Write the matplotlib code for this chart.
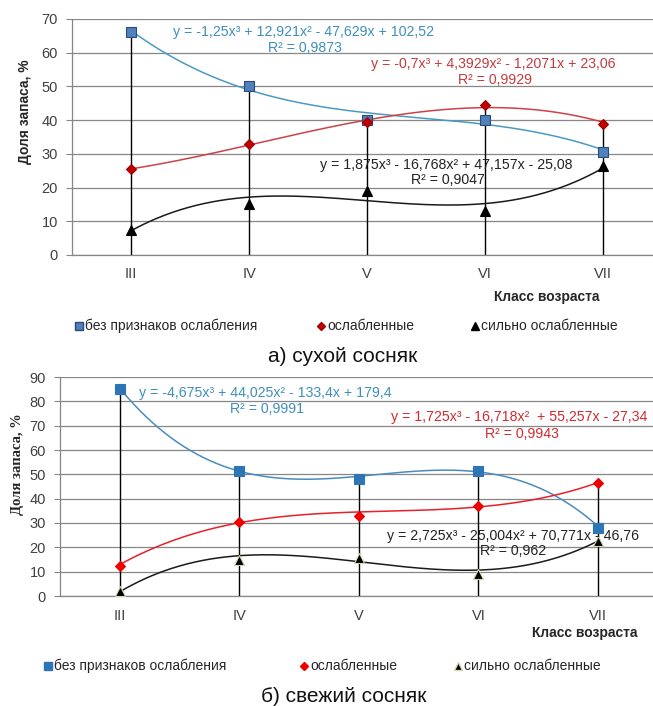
import numpy as np
import matplotlib
matplotlib.use('Agg')
import matplotlib.pyplot as plt
from matplotlib.lines import Line2D

# ---------------- data ----------------
categories = ['III', 'IV', 'V', 'VI', 'VII']
series_names = ['без признаков ослабления', 'ослабленные', 'сильно ослабленные']

dry_intact = [66, 50, 40, 40, 30.5]
dry_weak = [25.5, 33, 39.5, 44.5, 39]
dry_strong = [7.5, 15, 19, 13, 26.5]

fresh_intact = [85, 51.5, 48, 51.5, 28]
fresh_weak = [12.5, 30.5, 33, 37, 46.5]
fresh_strong = [2, 15, 15.5, 9, 22.5]

# cubic trend coefficients as printed on the chart
dry_intact_coef = [-1.25, 12.921, -47.629, 102.52]
dry_weak_coef = [-0.7, 4.3929, -1.2071, 23.06]
dry_strong_coef = [1.875, -16.768, 47.157, -25.08]
fresh_intact_coef = [-4.675, 44.025, -133.4, 179.4]
fresh_weak_coef = [1.725, -16.718, 55.257, -27.34]
fresh_strong_coef = [2.725, -25.004, 70.771, -46.76]

dry_eq = ['y = -1,25x³ + 12,921x² - 47,629x + 102,52',
          'y = -0,7x³ + 4,3929x² - 1,2071x + 23,06',
          'y = 1,875x³ - 16,768x² + 47,157x - 25,08']
dry_r2 = ['R² = 0,9873', 'R² = 0,9929', 'R² = 0,9047']
fresh_eq = ['y = -4,675x³ + 44,025x² - 133,4x + 179,4',
            'y = 1,725x³ - 16,718x²  + 55,257x - 27,34',
            'y = 2,725x³ - 25,004x² + 70,771x - 46,76']
fresh_r2 = ['R² = 0,9991', 'R² = 0,9943', 'R² = 0,962']

plt.rcParams['font.family'] = ['Liberation Sans', 'DejaVu Sans']

W, H = 653, 706
fig = plt.figure(figsize=(W / 100, H / 100), dpi=100)
fig.patch.set_facecolor('white')


def fx(x):
    return x / W


def fy(y):
    return 1 - y / H


def make_axes(rect_px, ymax, xright):
    l, t, r, b = rect_px
    ax = fig.add_axes([fx(l), fy(b), (r - l) / W, (b - t) / H])
    ax.set_xlim(0.5, xright)
    ax.set_ylim(0, ymax)
    ax.set_yticks(np.arange(0, ymax + 1, 10))
    ax.set_xticks(np.arange(1, len(categories) + 1))
    ax.set_xticklabels(categories)
    for s in ['top', 'right']:
        ax.spines[s].set_visible(False)
    for s in ['left', 'bottom']:
        ax.spines[s].set_color('#868686')
        ax.spines[s].set_linewidth(0.9)
    ax.yaxis.grid(True, color='#878787', linewidth=0.9)
    ax.set_axisbelow(True)
    ax.tick_params(axis='y', length=4, color='#868686', pad=6,
                   labelsize=10.5, labelcolor='#404040')
    ax.tick_params(axis='x', length=0, pad=9, labelsize=10.5,
                   labelcolor='#404040')
    return ax


def draw_panel(ax, vals, coefs, styles, eqs, r2s, eqpos, r2pos, tcols):
    x = np.arange(1, len(categories) + 1)
    top = np.max(np.array(vals), axis=0)
    ax.vlines(x, 0, top, color='black', linewidth=1.0, zorder=2)
    xs = np.linspace(1, 5, 300)
    for v, c, st in zip(vals, coefs, styles):
        ax.plot(xs, np.polyval(c, xs), color=st['trend'], linewidth=1.1,
                zorder=3)
        ax.plot(x, v, linestyle='none', marker=st['marker'],
                markersize=st['ms'], markerfacecolor=st['fc'],
                markeredgecolor=st['ec'], markeredgewidth=0.8, zorder=4)
    for e, r, pe, pr, tc in zip(eqs, r2s, eqpos, r2pos, tcols):
        ax.text(pe[0], pe[1], e, ha='center', va='center', fontsize=10.2,
                color=tc, zorder=5)
        ax.text(pr[0], pr[1], r, ha='center', va='center', fontsize=10.2,
                color=tc, zorder=5)


def legend_row(y, items, styles):
    for (mx, label), st in zip(items, styles):
        fig.add_artist(Line2D([fx(mx)], [fy(y)], transform=fig.transFigure,
                              marker=st['marker'], markersize=st['ms'] * 0.8,
                              markerfacecolor=st['fc'],
                              markeredgecolor=st['ec'], linestyle='none'))
        fig.text(fx(mx + 6), fy(y), label, ha='left', va='center',
                 fontsize=10, color='#262626')


# ---------------- top panel: dry pine ----------------
styles_dry = [
    dict(marker='s', ms=6.5, fc='#4f81bd', ec='#2a4a78', trend='#4a9ac4'),
    dict(marker='D', ms=4.8, fc='#c00000', ec='#a00000', trend='#d04048'),
    dict(marker='^', ms=6.5, fc='black', ec='black', trend='#1a1a1a'),
]
ax1 = make_axes((72, 19, 653, 255), 70, 5.42)
draw_panel(ax1, [dry_intact, dry_weak, dry_strong],
           [dry_intact_coef, dry_weak_coef, dry_strong_coef],
           styles_dry, dry_eq, dry_r2,
           [(2.46, 66.1), (4.07, 56.6), (3.67, 26.8)],
           [(2.47, 61.5), (4.08, 51.8), (3.68, 22.1)],
           ['#3f8fba', '#c33b3f', '#222222'])
fig.text(fx(25), fy(112), 'Доля запаса, %', rotation=90, ha='center',
         va='center', fontsize=10, fontweight='bold', color='#262626')
fig.text(fx(600), fy(297), 'Класс возраста', ha='right', va='center',
         fontsize=10, fontweight='bold', color='#262626')
legend_row(326, [(79, series_names[0]), (321, series_names[1]),
                 (475, series_names[2])], styles_dry)
fig.text(fx(343), fy(356), 'а) сухой сосняк', ha='center', va='center',
         fontsize=15, color='#111111')

# ---------------- bottom panel: fresh pine ----------------
styles_fresh = [
    dict(marker='s', ms=6.5, fc='#2e75b6', ec='#2e75b6', trend='#4a8cbf'),
    dict(marker='D', ms=4.8, fc='#ee0000', ec='#ee0000', trend='#e8202a'),
    dict(marker='^', ms=6.5, fc='black', ec='#d8d8b0', trend='#1a1a1a'),
]
ax2 = make_axes((60, 377, 653, 596), 90, 5.46)
draw_panel(ax2, [fresh_intact, fresh_weak, fresh_strong],
           [fresh_intact_coef, fresh_weak_coef, fresh_strong_coef],
           styles_fresh, fresh_eq, fresh_r2,
           [(2.22, 83.6), (4.34, 73.4), (4.29, 24.6)],
           [(2.23, 77.0), (4.36, 66.6), (4.29, 18.4)],
           ['#3f8fba', '#d02a30', '#222222'])
fig.text(fx(18), fy(464), 'Доля запаса, %', rotation=90, ha='center',
         va='center', fontsize=10.5, fontweight='bold', color='#262626',
         family=['Liberation Serif', 'DejaVu Serif'])
fig.text(fx(637), fy(633), 'Класс возраста', ha='right', va='center',
         fontsize=10, fontweight='bold', color='#262626')
legend_row(666, [(48, series_names[0]), (304, series_names[1]),
                 (458, series_names[2])], styles_fresh)
fig.text(fx(344), fy(696), 'б) свежий сосняк', ha='center', va='center',
         fontsize=15, color='#111111')

fig.savefig('out.png', dpi=100)
